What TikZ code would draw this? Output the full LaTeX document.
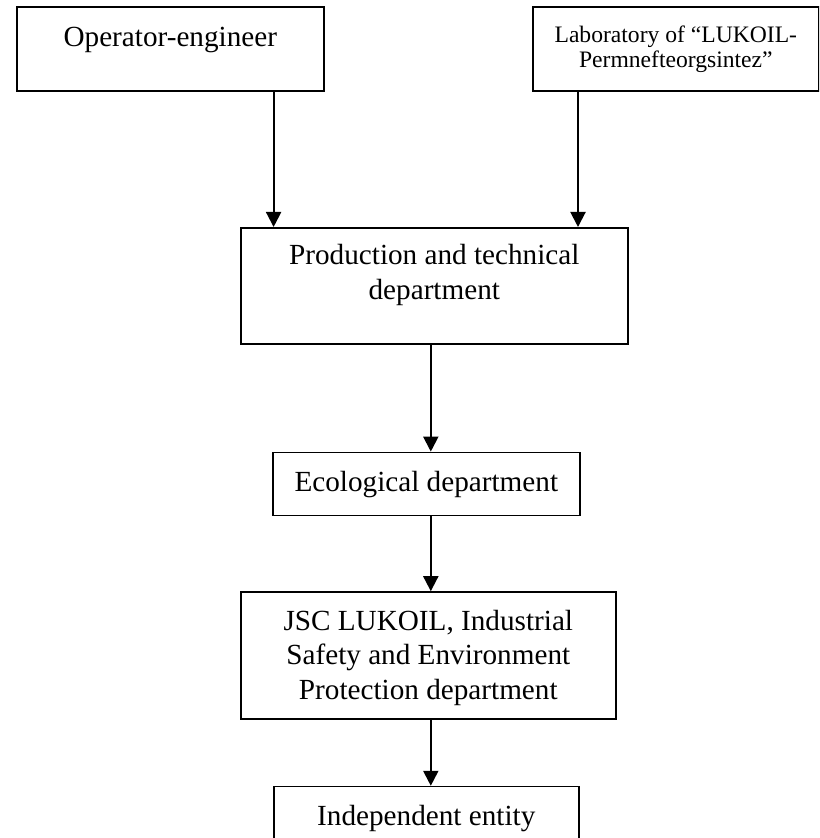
\documentclass[tikz,border=0pt]{standalone}
\usepackage{fontspec}
\setmainfont{Liberation Serif}
\usetikzlibrary{positioning,arrows.meta}

\begin{document}
\begin{tikzpicture}[
    x=0.5pt, y=-0.5pt,
    box/.style={rectangle, draw, line width=0.8pt, align=center, inner xsep=2pt, inner ysep=0pt, text height=19.5pt, font=\fontsize{14.6}{17.3}\selectfont},
    line/.style={draw, line width=1pt, -{Triangle[length=7.5pt,width=7.5pt]}}
]
\useasboundingbox (0,0) rectangle (819,838);
\clip (0,0) rectangle (819,838);

% Nodes
\node [box, anchor=north west, minimum width=153.5pt, text height=20pt, text depth=22pt] (op) at (16,6) {Operator-engineer};
\node [box, anchor=north west, minimum width=143pt, text height=30.5pt, text depth=11.5pt, font=\fontsize{11.8}{12.5}\selectfont] (lab) at (532,6) {Laboratory of “LUKOIL-\\Permnefteorgsintez”};
\node [box, anchor=north west, minimum width=193.5pt, text height=35.8pt, text depth=22.2pt] (prod) at (240,227) {Production and technical\\department};
\node [box, minimum width=153.5pt, text depth=12pt, below=53.5pt of prod.south, xshift=-4pt] (eco) {Ecological department};
\node [box, minimum width=187.5pt, text height=53.6pt, text depth=9.9pt, below=37.5pt of eco.south, xshift=1pt] (jsc) {JSC LUKOIL, Industrial\\Safety and Environment\\Protection department};
\node [box, minimum width=152.5pt, text depth=30pt, below=33pt of jsc.south, xshift=-1pt] (ind) {Independent entity};

% Connections
\coordinate (opout) at ([xshift=-25.5pt]op.south east);
\coordinate (labout) at ([xshift=23pt]lab.south west);
\coordinate (mid) at ([xshift=-1.75pt]prod.south);

% Operator and Laboratory to Production
\draw [line] (opout) -- (opout |- prod.north);
\draw [line] (labout) -- (labout |- prod.north);

% Down the chain
\draw [line] (mid) -- (mid |- eco.north);
\draw [line] (mid |- eco.south) -- (mid |- jsc.north);
\draw [line] (mid |- jsc.south) -- (mid |- ind.north);

\end{tikzpicture}
\end{document}
